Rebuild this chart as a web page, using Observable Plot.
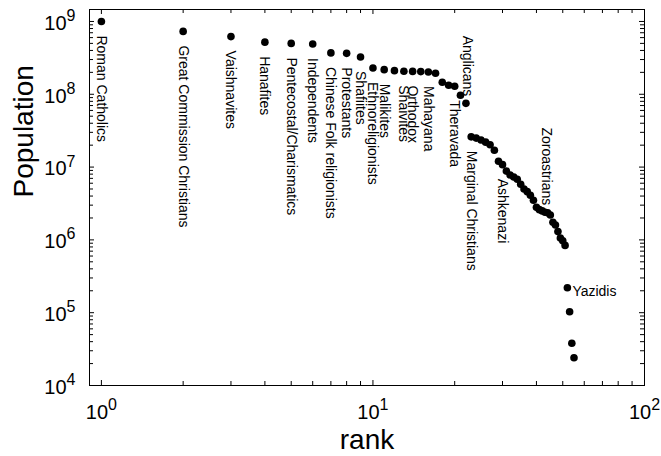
<!DOCTYPE html>
<html><head><meta charset="utf-8">
<script src="https://cdn.jsdelivr.net/npm/d3@7"></script>
<script src="https://cdn.jsdelivr.net/npm/@observablehq/plot@0.6"></script>
<style>
html,body{margin:0;padding:0;background:#fff;}
svg{font-family:"Liberation Sans",Arial,Helvetica,sans-serif;}
</style></head><body><div id="chart"></div>
<script>
// Population of each group, in rank order (rank = position + 1)
const population = [
  1.0e9, 7.3e8, 6.2e8, 5.2e8, 5.0e8, 4.9e8, 3.7e8, 3.65e8, 3.25e8, 2.3e8,
  2.18e8, 2.11e8, 2.07e8, 2.06e8, 2.05e8, 2.02e8, 1.94e8, 1.46e8, 1.33e8, 1.29e8,
  9.7e7, 7.5e7, 2.6e7, 2.5e7, 2.35e7, 2.2e7, 2.03e7, 1.7e7, 1.2e7, 1.08e7,
  8.8e6, 7.8e6, 7.3e6, 6.8e6, 5.8e6, 5.0e6, 4.6e6, 4.1e6, 3.5e6, 2.8e6,
  2.6e6, 2.5e6, 2.4e6, 2.35e6, 2.2e6, 1.75e6, 1.6e6, 1.3e6, 1.06e6, 9.7e5,
  8.4e5, 2.2e5, 1.03e5, 3.8e4, 2.4e4
];

// labelled groups hanging below their point
const belowNames = ["Roman Catholics","Great Commission Christians","Vaishnavites","Hanafites",
  "Pentecostal/Charismatics","Independents","Chinese Folk religionists","Protestants","Shafiites",
  "Ethnoreligionists","Malikites","Shaivites","Orthodox","Mahayana","Theravada",
  "Marginal Christians","Ashkenazi"];
const belowRanks = [1,2,3,4,5,6,7,8,9,10,11,13,14,16,20,23,30];
// labelled groups standing above their point
const aboveNames = ["Anglicans","Zoroastrians"];
const aboveRanks = [22,43];
// labelled groups written to the right of their point
const rightNames = ["Yazidis"];
const rightRanks = [52];

const xTickValues = [1, 10, 100];
const yTickValues = [1e4, 1e5, 1e6, 1e7, 1e8, 1e9];
const xTitle = "rank";
const yTitle = "Population";

const points = population.map((p, i) => ({rank: i + 1, pop: p}));
const mk = (names, ranks) => names.map((n, i) => ({name: n, rank: ranks[i], pop: population[ranks[i] - 1]}));
const below = mk(belowNames, belowRanks);
const above = mk(aboveNames, aboveRanks);
const right = mk(rightNames, rightRanks);

const xMinor = d3.scaleLog().domain([1, 100]).ticks().filter(v => !xTickValues.includes(v));
const yMinor = d3.scaleLog().domain([1e4, 1e9]).ticks().filter(v => !yTickValues.includes(v));

const W = 661, H = 456, mL = 89, mR = 17, mT = 9, mB = 71;
const fw = W - mL - mR, fh = H - mT - mB;
const maj = 5, mnr = 4;
const pow = v => "10^" + Math.round(Math.log10(v));

const plot = Plot.plot({
  width: W, height: H,
  marginLeft: mL, marginRight: mR, marginTop: mT, marginBottom: mB,
  style: {fontFamily: '"Liberation Sans", Arial, sans-serif', background: "white", color: "black", overflow: "visible"},
  x: {type: "log", domain: [0.904, 100], axis: null},
  y: {type: "log", domain: [1e4, 1.46e9], axis: null},
  marks: [
    Plot.frame({stroke: "black", strokeWidth: 1}),
    // inward ticks, bottom & top
    Plot.tickX(xTickValues, {x: d => d, insetTop: fh - maj, stroke: "black"}),
    Plot.tickX(xMinor, {x: d => d, insetTop: fh - mnr, stroke: "black"}),
    Plot.tickX(xTickValues, {x: d => d, insetBottom: fh - maj, stroke: "black"}),
    Plot.tickX(xMinor, {x: d => d, insetBottom: fh - mnr, stroke: "black"}),
    // inward ticks, left & right
    Plot.tickY(yTickValues, {y: d => d, insetRight: fw - maj, stroke: "black"}),
    Plot.tickY(yMinor, {y: d => d, insetRight: fw - mnr, stroke: "black"}),
    Plot.tickY(yTickValues, {y: d => d, insetLeft: fw - maj, stroke: "black"}),
    Plot.tickY(yMinor, {y: d => d, insetLeft: fw - mnr, stroke: "black"}),
    // tick labels
    Plot.text(xTickValues, {x: d => d, frameAnchor: "bottom", text: pow, dy: 33, lineAnchor: "bottom", fontSize: 20, fill: "black"}),
    Plot.text(yTickValues, {y: d => d, frameAnchor: "left", text: pow, dx: -14, dy: 2, textAnchor: "end", lineAnchor: "middle", fontSize: 20, fill: "black"}),
    // axis titles
    Plot.text([xTitle], {frameAnchor: "bottom", dy: 63, lineAnchor: "bottom", fontSize: 28, fill: "black"}),
    Plot.text([yTitle], {frameAnchor: "left", rotate: -90, dx: -57, lineAnchor: "bottom", fontSize: 28, fill: "black"}),
    // data
    Plot.dot(points, {x: "rank", y: "pop", r: 3.8, fill: "black", stroke: "none"}),
    Plot.text(below, {x: "rank", y: "pop", text: "name", rotate: 90, textAnchor: "start", lineAnchor: "middle", dy: 14, fontSize: 14, fill: "black"}),
    Plot.text(above, {x: "rank", y: "pop", text: "name", rotate: 90, textAnchor: "end", lineAnchor: "middle", dy: -7, dx: 2, fontSize: 14, fill: "black"}),
    Plot.text(right, {x: "rank", y: "pop", text: "name", textAnchor: "start", lineAnchor: "middle", dx: 5, dy: 4, fontSize: 14, fill: "black"})
  ]
});

// turn "10^n" into 10 with a raised exponent
const ns = "http://www.w3.org/2000/svg";
plot.querySelectorAll("text").forEach(t => {
  const s = t.textContent;
  if (!/^10\^-?\d+$/.test(s)) return;
  const [b, e] = s.split("^");
  while (t.firstChild) t.removeChild(t.firstChild);
  t.appendChild(document.createTextNode(b));
  const ts = document.createElementNS(ns, "tspan");
  ts.setAttribute("dy", "-0.55em");
  ts.setAttribute("font-size", "16");
  ts.textContent = e;
  t.appendChild(ts);
});
document.getElementById("chart").appendChild(plot);
</script></body></html>
